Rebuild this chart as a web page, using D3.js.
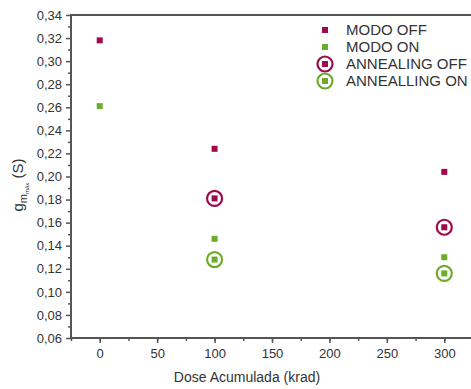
<!DOCTYPE html>
<html>
<head>
<meta charset="utf-8">
<script src="https://cdn.jsdelivr.net/npm/d3@7"></script>
<style>
  body { margin: 0; background: #fff; }
  text { font-family: "Liberation Sans", Arial, sans-serif; fill: #333; }
</style>
</head>
<body>
<div id="chart"></div>
<script>
// data
var doses = [0, 100, 300];
var modoOff = [0.318, 0.224, 0.204];
var modoOn = [0.261, 0.146, 0.130];
var annealDoses = [100, 300];
var annealingOff = [0.181, 0.156];
var annealingOn = [0.128, 0.116];
var legendLabels = ["MODO OFF", "MODO ON", "ANNEALING OFF", "ANNEALLING ON"];
var yTicks = d3.range(0.06, 0.3401, 0.02);
var xTicks = [0, 50, 100, 150, 200, 250, 300];

var W = 471, H = 389;
var margin = {top: 15, right: -2, bottom: 51, left: 71};
var width = W - margin.left - margin.right,
    height = H - margin.top - margin.bottom;

var red = "#9e0b4c", green = "#6dab2a", axisCol = "#555";

var svg = d3.select("#chart").append("svg")
    .attr("width", W).attr("height", H)
  .append("g")
    .attr("transform", "translate(" + margin.left + "," + margin.top + ")");

var x = d3.scaleLinear().domain([-25, 325]).range([0, width]);
var y = d3.scaleLinear().domain([0.06, 0.34]).range([height, 0]);

// minor ticks
svg.append("g")
  .attr("transform", "translate(0," + height + ")")
  .call(d3.axisBottom(x).tickValues(d3.range(-25, 326, 25)).tickSize(3).tickFormat(""))
  .call(function(g) { g.select(".domain").remove(); g.selectAll("line").attr("stroke", axisCol).attr("stroke-width", 1.5); });
svg.append("g")
  .call(d3.axisLeft(y).tickValues(d3.range(0.07, 0.34, 0.02)).tickSize(3).tickFormat(""))
  .call(function(g) { g.select(".domain").remove(); g.selectAll("line").attr("stroke", axisCol).attr("stroke-width", 1.5); });

// major ticks
var xAxis = svg.append("g")
  .attr("transform", "translate(0," + height + ")")
  .call(d3.axisBottom(x).tickValues(xTicks).tickSize(5).tickPadding(6));
var yAxis = svg.append("g")
  .call(d3.axisLeft(y).tickValues(yTicks).tickSize(5).tickPadding(4)
    .tickFormat(function(d) { return d3.format(".2f")(d).replace(".", ","); }));

[xAxis, yAxis].forEach(function(g) {
  g.select(".domain").remove();
  g.selectAll("line").attr("stroke", axisCol).attr("stroke-width", 1.5);
  g.selectAll("text").style("font-size", "13px").attr("fill", "#333");
});

// frame
svg.append("rect")
  .attr("x", 0).attr("y", 0)
  .attr("width", width).attr("height", height)
  .attr("fill", "none").attr("stroke", axisCol).attr("stroke-width", 2);

// axis titles
svg.append("text")
  .attr("x", x(150) - 25).attr("y", height + 44)
  .attr("text-anchor", "middle")
  .style("font-size", "14px")
  .text("Dose Acumulada (krad)");

var ylab = svg.append("text")
  .attr("transform", "translate(" + (-48) + "," + (185 - margin.top) + ")rotate(-90)")
  .attr("text-anchor", "middle")
  .style("font-size", "15px");
ylab.append("tspan").text("g");
ylab.append("tspan").attr("dy", 4).style("font-size", "11px").text("m");
ylab.append("tspan").attr("dy", 2).style("font-size", "6px").text("máx");
ylab.append("tspan").attr("dy", -6).text(" (S)");

// markers
function square(g, cx, cy, s, col) {
  g.append("rect")
    .attr("x", cx - s / 2).attr("y", cy - s / 2)
    .attr("width", s).attr("height", s)
    .attr("fill", col);
}
function ringed(g, cx, cy, col) {
  g.append("circle")
    .attr("cx", cx).attr("cy", cy).attr("r", 7.5)
    .attr("fill", "none").attr("stroke", col).attr("stroke-width", 2.2);
  square(g, cx, cy, 6, col);
}

var pts = svg.append("g");
doses.forEach(function(d, i) {
  square(pts, x(d), y(modoOff[i]), 6, red);
  square(pts, x(d), y(modoOn[i]), 6, green);
});
annealDoses.forEach(function(d, i) {
  ringed(pts, x(d), y(annealingOff[i]), red);
  ringed(pts, x(d), y(annealingOn[i]), green);
});

// legend
var legend = svg.append("g").attr("transform", "translate(" + (325 - margin.left) + "," + (30 - margin.top) + ")");
legendLabels.forEach(function(lab, i) {
  var row = legend.append("g").attr("transform", "translate(0," + (i * 17) + ")");
  var col = i % 2 === 0 ? red : green;
  if (i < 2) square(row, 0, 0, 6, col);
  else ringed(row, 0, 0, col);
  row.append("text")
    .attr("x", 21).attr("y", 0).attr("dy", "0.35em")
    .style("font-size", "15px")
    .text(lab);
});
</script>
</body>
</html>
